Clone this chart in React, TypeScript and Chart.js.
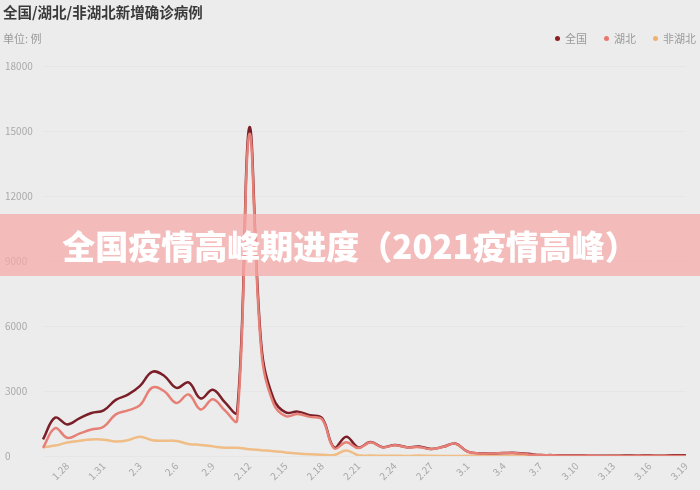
import React, { useEffect, useRef } from "react";
import { Chart, registerables } from "chart.js";

Chart.register(...registerables);

const dates: string[] = [
  "1.26", "1.27", "1.28", "1.29", "1.30", "1.31",
  "2.1", "2.2", "2.3", "2.4", "2.5", "2.6", "2.7", "2.8", "2.9", "2.10",
  "2.11", "2.12", "2.13", "2.14", "2.15", "2.16", "2.17", "2.18", "2.19", "2.20",
  "2.21", "2.22", "2.23", "2.24", "2.25", "2.26", "2.27", "2.28", "2.29",
  "3.1", "3.2", "3.3", "3.4", "3.5", "3.6", "3.7", "3.8", "3.9", "3.10",
  "3.11", "3.12", "3.13", "3.14", "3.15", "3.16", "3.17", "3.18", "3.19",
];

const national: number[] = [
  769, 1771, 1459, 1737, 1982, 2102,
  2590, 2829, 3235, 3887, 3694, 3143, 3399, 2656, 3062, 2478,
  2015, 15152, 5090, 2641, 2009, 2048, 1886, 1749, 394, 889,
  397, 648, 409, 508, 406, 433, 327, 427, 573,
  202, 125, 119, 139, 143, 99, 44, 40, 19, 24,
  15, 8, 11, 20, 16, 21, 13, 34, 39,
];

const hubei: number[] = [
  371, 1291, 840, 1032, 1220, 1347,
  1921, 2103, 2345, 3156, 2987, 2447, 2841, 2147, 2618, 2097,
  1638, 14840, 4823, 2420, 1843, 1933, 1807, 1693, 349, 631,
  366, 630, 398, 499, 401, 409, 318, 423, 570,
  196, 114, 115, 134, 126, 74, 41, 36, 17, 13,
  8, 5, 4, 4, 4, 1, 1, 0, 0,
];

const nonHubei: number[] = [
  398, 480, 619, 705, 762, 755,
  669, 726, 890, 731, 707, 696, 558, 509, 444, 381,
  377, 312, 267, 221, 166, 115, 79, 56, 45, 258,
  31, 18, 11, 9, 5, 24, 9, 4, 3,
  6, 11, 4, 5, 17, 25, 3, 4, 2, 11,
  7, 3, 7, 16, 12, 20, 12, 34, 39,
];

const yTicks: number[] = [0, 3000, 6000, 9000, 12000, 15000, 18000];

const seriesNames: string[] = ["全国", "湖北", "非湖北"];
const seriesColors: string[] = ["#7a1f28", "#e67f76", "#efbd85"];
const seriesOrder: number[] = [1, 0, 2];
const legendColors: string[] = ["#8b1e22", "#e8776f", "#efb070"];

const FONT = "'Noto Sans CJK SC', 'Noto Sans', sans-serif";

export default function App() {
  const canvasRef = useRef<HTMLCanvasElement | null>(null);

  useEffect(() => {
    if (!canvasRef.current) return;
    const seriesData = [national, hubei, nonHubei];
    const chart = new Chart(canvasRef.current, {
      type: "line",
      data: {
        labels: dates,
        datasets: seriesNames.map((name, i) => ({
          label: name,
          data: seriesData[i],
          borderColor: seriesColors[i],
          backgroundColor: seriesColors[i],
          borderWidth: 2.5,
          pointRadius: 0,
          tension: 0.4,
          fill: false,
          order: seriesOrder[i],
        })),
      },
      options: {
        animation: false,
        responsive: false,
        maintainAspectRatio: false,
        layout: { padding: { left: 5, right: 14, top: 66, bottom: 0 } },
        plugins: {
          legend: { display: false },
          tooltip: { enabled: false },
        },
        scales: {
          x: {
            grid: { display: false, drawTicks: false },
            border: { display: false },
            ticks: {
              autoSkip: false,
              maxRotation: 45,
              minRotation: 45,
              padding: 4,
              color: "#a9a9a9",
              font: { family: FONT, size: 10 },
              callback: (_v: any, idx: number) => (idx % 3 === 2 ? dates[idx] : ""),
            },
            afterFit: (scale: any) => {
              scale.height = 34;
            },
          },
          y: {
            min: 0,
            max: 18000,
            afterBuildTicks: (scale: any) => {
              scale.ticks = yTicks.map((v) => ({ value: v }));
            },
            grid: { color: "rgba(0,0,0,0.025)", drawTicks: false },
            border: { display: false },
            ticks: {
              crossAlign: "far",
              color: "#a9a9a9",
              font: { family: FONT, size: 10 },
              callback: (v: any) => String(v),
            },
            afterFit: (scale: any) => {
              scale.width = 38;
            },
          },
        },
      },
    });
    return () => chart.destroy();
  }, []);

  return (
    <div
      style={{
        position: "fixed",
        left: 0,
        top: 0,
        width: 700,
        height: 490,
        background: "#ececec",
        overflow: "hidden",
        fontFamily: FONT,
      }}
    >
      <canvas ref={canvasRef} width={700} height={490} style={{ position: "absolute", left: 0, top: 0, width: 700, height: 490 }} />
      <div
        style={{
          position: "absolute",
          left: 3,
          top: 3,
          fontSize: 14.5,
          fontWeight: 700,
          color: "#3a3a3a",
          lineHeight: "18px",
          whiteSpace: "nowrap",
        }}
      >
        全国/湖北/非湖北新增确诊病例
      </div>
      <div
        style={{
          position: "absolute",
          left: 3,
          top: 30,
          fontSize: 11,
          color: "#9a9a9a",
          lineHeight: "16px",
          whiteSpace: "nowrap",
        }}
      >
        单位: 例
      </div>
      <div
        style={{
          position: "absolute",
          right: 4,
          top: 31,
          display: "flex",
          alignItems: "center",
          fontSize: 11,
          color: "#9a9a9a",
          lineHeight: "14px",
          whiteSpace: "nowrap",
        }}
      >
        {seriesNames.map((n, i) => (
          <div key={n} style={{ display: "flex", alignItems: "center", marginLeft: i === 0 ? 0 : 17 }}>
            <span
              style={{
                width: 5,
                height: 5,
                borderRadius: "50%",
                background: legendColors[i],
                display: "inline-block",
                marginRight: 5,
              }}
            />
            <span>{n}</span>
          </div>
        ))}
      </div>
      <div
        style={{
          position: "absolute",
          left: 0,
          top: 214,
          width: 700,
          height: 62,
          background: "rgba(247,168,168,0.72)",
          display: "flex",
          alignItems: "center",
          justifyContent: "center",
          color: "#ffffff",
          fontSize: 33,
          fontWeight: 900,
          whiteSpace: "nowrap",
        }}
      >
        全国疫情高峰期进度（2021疫情高峰）
      </div>
    </div>
  );
}
